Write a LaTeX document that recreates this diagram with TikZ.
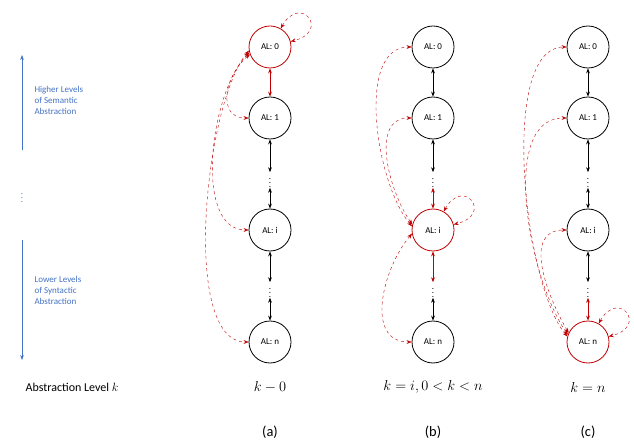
\documentclass[tikz,border=0pt]{standalone}
\usepackage{fontspec}
\setmainfont{Carlito}
\usetikzlibrary{arrows.meta}
\definecolor{dred}{RGB}{192,0,0}
\definecolor{lblue}{RGB}{68,114,196}
\begin{document}
\begin{tikzpicture}[x=1pt,y=-1pt,
  al/.style={circle,draw,thick,minimum size=42pt,inner sep=0pt,font=\small},
  redal/.style={al,draw=dred},
  dt/.style={inner sep=0pt,minimum height=12pt,font=\small},
  dbl/.style={{Stealth[length=5pt]}-{Stealth[length=5pt]},thick},
  rdbl/.style={dbl,dred},
  rd/.style={{Stealth[length=5pt]}-{Stealth[length=5pt]},dred,dashed,thin},
  lbl/.style={font=\Large}]
\useasboundingbox (0,0) rectangle (634,446);
% left side
\draw[lblue,thick,-{Stealth[length=5pt]}] (22,150) -- (22,55);
\node[lblue,font=\small,align=left,anchor=west] (hi) at (31,100) {Higher Levels\\of Semantic\\Abstraction};
\node[lblue,dt] (vd) at (22,195) {$\vdots$};
\draw[lblue,thick,-{Stealth[length=5pt]}] (22,240) -- (22,360);
\node[lblue,font=\small,align=left,anchor=west] (lo) at (31,290) {Lower Levels\\of Syntactic\\Abstraction};
\node[font=\large] (ak) at (72,387) {Abstraction Level $k$};
\foreach \c/\x/\lab/\sub in {a/270/{$k-0$}/(a), b/433/{$k=i,0<k<n$}/(b), c/588/{$k=n$}/(c)}{
  \node[lbl] (t\c) at (\x,387) {\lab};
  \node[lbl] (s\c) at (\x,432) {\sub};
}
% column a
\node[redal] (a0) at (270,47) {AL: 0};
\node[al] (a1) at (270,118) {AL: 1};
\node[dt] (ad1) at (270,180) {$\vdots$};
\node[al] (ai) at (270,230) {AL: i};
\node[dt] (ad2) at (270,290) {$\vdots$};
\node[al] (an) at (270,342) {AL: n};
\draw[rdbl] (a0) -- (a1);
\draw[dbl] (a1) -- (ad1.north);
\draw[dbl] (ad1.south) -- (ai);
\draw[dbl] (ai) -- (ad2.north);
\draw[dbl] (ad2.south) -- (an);
\draw[rd] (a0.60) .. controls +(20,-35) and +(40,-10) .. (a0.15);
\draw[rd] (a0.200) to[out=220,in=180,looseness=1.3] (a1.west);
\draw[rd] (a0.195) to[out=225,in=180,looseness=0.8] (ai.west);
\draw[rd] (a0.190) to[out=230,in=180,looseness=0.6] (an.west);
% column b
\node[al] (b0) at (433,47) {AL: 0};
\node[al] (b1) at (433,118) {AL: 1};
\node[dt] (bd1) at (433,180) {$\vdots$};
\node[redal] (bi) at (433,230) {AL: i};
\node[dt] (bd2) at (433,290) {$\vdots$};
\node[al] (bn) at (433,342) {AL: n};
\draw[dbl] (b0) -- (b1);
\draw[dbl] (b1) -- (bd1.north);
\draw[rdbl] (bd1.south) -- (bi);
\draw[rdbl] (bi) -- (bd2.north);
\draw[dbl] (bd2.south) -- (bn);
\draw[rd] (bi.60) .. controls +(20,-35) and +(40,-10) .. (bi.15);
\draw[rd] (bi.170) to[out=130,in=180,looseness=0.8] (b0.west);
\draw[rd] (bi.165) to[out=125,in=180,looseness=1] (b1.west);
\draw[rd] (bi.190) to[out=230,in=180,looseness=1.1] (bn.west);
% column c
\node[al] (c0) at (588,47) {AL: 0};
\node[al] (c1) at (588,118) {AL: 1};
\node[dt] (cd1) at (588,180) {$\vdots$};
\node[al] (ci) at (588,230) {AL: i};
\node[dt] (cd2) at (588,290) {$\vdots$};
\node[redal] (cn) at (588,342) {AL: n};
\draw[dbl] (c0) -- (c1);
\draw[dbl] (c1) -- (cd1.north);
\draw[dbl] (cd1.south) -- (ci);
\draw[dbl] (ci) -- (cd2.north);
\draw[rdbl] (cd2.south) -- (cn);
\draw[rd] (cn.60) .. controls +(20,-35) and +(40,-10) .. (cn.15);
\draw[rd] (cn.165) to[out=130,in=180,looseness=0.6] (c0.west);
\draw[rd] (cn.160) to[out=125,in=180,looseness=0.8] (c1.west);
\draw[rd] (cn.155) to[out=120,in=180,looseness=1.1] (ci.west);
\end{tikzpicture}
\end{document}
